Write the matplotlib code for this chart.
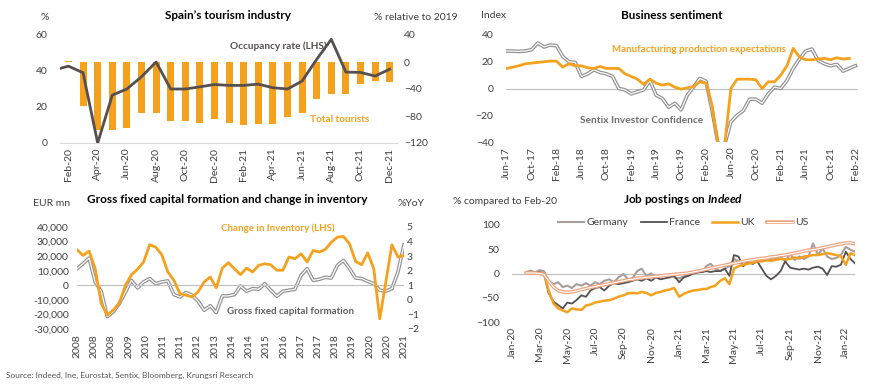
import numpy as np
import pandas as pd
import matplotlib
matplotlib.use("Agg")
import matplotlib.pyplot as plt
import matplotlib.patheffects as pe

plt.rcParams['font.family'] = ['Lato', 'DejaVu Sans']
plt.rcParams['font.size'] = 7.5
plt.rcParams['text.color'] = '#404040'
plt.rcParams['xtick.color'] = '#404040'
plt.rcParams['ytick.color'] = '#404040'
plt.rcParams['mathtext.fontset'] = 'custom'
plt.rcParams['mathtext.it'] = 'Lato:italic:bold'

ORANGE = '#F4A21E'
DARK = '#574f4f'
ZERO = '#bfbfbf'

# ---- data: Spain tourism (Jan-20 point only feeds the clipped line start)
tour_months = ['Jan-20', 'Feb-20', 'Mar-20', 'Apr-20', 'May-20', 'Jun-20', 'Jul-20', 'Aug-20',
               'Sep-20', 'Oct-20', 'Nov-20', 'Dec-20', 'Jan-21', 'Feb-21', 'Mar-21', 'Apr-21',
               'May-21', 'Jun-21', 'Jul-21', 'Aug-21', 'Sep-21', 'Oct-21', 'Nov-21', 'Dec-21']
total_tourists = [2, 1, -65, -100, -100, -98, -75, -76, -87, -87, -90, -84, -90, -94, -92, -92,
                  -82, -75, -55, -48, -47, -32, -28, -30]
occupancy = [40.5, 42.7, 39, 0, 26.6, 30, 36.8, 45, 30, 30, 31.2, 32.5, 32, 32, 32.7, 30.7,
             30, 34.4, 46.5, 57.6, 39.4, 39.2, 37.2, 41]

# ---- data: business sentiment, Jun-17 .. Feb-22
sent_months = pd.date_range('2017-06-01', '2022-02-01', freq='MS').strftime('%b-%y').tolist()
sentix = [28, 28, 27.7, 28, 29, 34, 31,
          32.5, 32, 24, 20, 19.5, 9, 11, 14, 12, 11, 9, 0,
          -1, -4, -2.5, -1, 6, -5, -7.5, -14, -11, -16, -5, 1,
          7.5, 5.5, -17, -43, -42, -25, -20, -16.5, -8, -8, -11, -4,
          1, 0, 6, 15, 22, 28, 29.5, 21, 18.5, 17, 18, 13,
          15, 17]
manuf = [15, 16, 17, 18.5, 19, 19.5, 20,
         20.5, 20.5, 16, 18.5, 17, 17, 15.5, 15, 16.5, 15, 15, 15,
         11, 9, 7, 3, 7, 4, 2.5, 3.5, 1, -0.5, 0.5, 1.5,
         5, 4, -13, -45, -42, 0, 7, 7, 7, 6.5, 0, 5,
         5, 10, 17, 30, 23.5, 21.5, 21.5, 22, 22.5, 21.5, 23, 22,
         22.5]

# ---- data: GFCF and inventory, quarterly 2008..2021
gfcf_labels = ['2008', '2008', '2008', '2009', '2010', '2011', '2011', '2012', '2013', '2014',
               '2014', '2015', '2016', '2017', '2017', '2018', '2019', '2020', '2020', '2021']
inventory = [24400, 20500, 23500, 11400, -12500, -20500, -17000, -12000, 0, 7300, 11000, 16000,
             27800, 26200, 21000, 9100, 3400, -5700, -6800, -8000, -4500, 2300, 5700, -1800,
             11800, 15500, 11400, 7300, 11800, 9100, 13700, 14800, 14100, 10300, 10300, 19400,
             18200, 21600, 16000, 23900, 22800, 24600, 29600, 33000, 33500, 28500, 16400, 14100,
             22300, 11400, -23000, 2300, 27800, 19400, 20500]
gfcf = [2.14, 2.48, 2.87, 1.23, 0.59, -1.16, -0.82, -0.25, 0.54, 1.34, 0.82, 1.23, 1.46, 1.11,
        1.23, 1.30, 0.36, 0.20, 0.50, 0.32, -0.09, -0.71, -0.41, -0.87, 0.27, 0.27, 0.36, 0.95,
        0.59, 0.77, 0.73, 1.11, 0.66, 0.25, 0.59, 0.66, 0.73, 1.68, 2.14, 1.34, 1.41, 1.55,
        1.50, 2.37, 2.71, 2.14, 1.50, 1.46, 1.27, 1.11, 0.66, 0.59, 0.77, 1.91, 3.78]

# ---- data: Indeed job postings, sampled on the 1st, 11th and 21st
job_dates = pd.to_datetime([f'{y}-{m:02d}-{d:02d}'
                            for y, m in [(2020, mm) for mm in range(2, 13)] + [(2021, mm) for mm in range(1, 13)] + [(2022, 1)]
                            for d in (1, 11, 21)])
germany = [3, 6, 2, 7, 5, -15, -22, -18, -28, -25, -30, -22, -25, -20, -25, -18, -22, -15,
           -12, -18, -8, -1, -12, -10, 5, 10, -5, 0, -8, -3, -5, -2, -8,
           -10, -6, -3, 0, 5, 3, 15, 20, 10, 5, 10, 15, 30, 25, 15, 25, 20, 28,
           25, 28, 30, 30, 35, 25, 40, 28, 35, 30, 35, 62, 38, 52, 35, 30, 32, 38,
           55, 49, 45]
france = [1, 0, 2, 3, 0, -40, -58, -65, -72, -60, -62, -55, -45, -48, -35, -30, -28, -35,
          -25, -20, -22, -20, -18, -15, -12, -15, -10, -15, -8, -12, -10, -8, -5,
          -18, -8, -5, 0, 2, 3, 5, 3, 5, 5, 10, -5, 38, 35, 15, 25, 20, 25,
          10, -5, -12, -5, 5, 25, 12, 10, 8, 10, 8, 12, 14, 10, -3, 15, 14, 18,
          45, 30, 21]
uk = [0, 1, 0, 1, 0, -35, -62, -72, -76, -80, -72, -74, -75, -66, -64, -60, -58, -56,
      -55, -52, -48, -45, -41, -40, -41, -38, -40, -45, -40, -38, -35, -33, -30,
      -48, -42, -38, -35, -34, -32, -32, -28, -25, -15, -10, -22, 10, 15, 18, 20, 22, 25,
      25, 27, 26, 28, 30, 29, 30, 33, 31, 35, 36, 38, 38, 40, 42, 40, 38, 36,
      18, 42, 38]
us = [1, 1, 1, 0, -2, -15, -28, -35, -38, -39, -38, -36, -33, -31, -29, -27, -25, -23,
      -21, -19, -17, -15, -13, -12, -10, -9, -8, -7, -6, -5, -4, -3, -2,
      -1, 0, 1, 3, 5, 7, 9, 11, 13, 15, 17, 19, 21, 23, 25, 27, 28, 30,
      31, 32, 34, 35, 37, 38, 40, 42, 44, 46, 48, 49, 51, 53, 55, 57, 59, 61,
      63, 63, 61]

W, H = 870, 385
fig = plt.figure(figsize=(W / 100, H / 100), dpi=100)


def box(x0, y0, x1, y1):
    # pixel box (top-left origin) -> figure fraction
    return [x0 / W, 1 - y1 / H, (x1 - x0) / W, (y1 - y0) / H]


def clean(ax):
    for s in ax.spines.values():
        s.set_visible(False)
    ax.tick_params(length=0)


def double(color):
    return [pe.Stroke(linewidth=2.6, foreground=color), pe.Normal()]


# ================= Spain's tourism industry =================
ax1 = fig.add_axes(box(60, 35, 397, 143))
ax1r = ax1.twinx()
x1 = np.arange(len(tour_months))
ax1r.bar(x1, total_tourists, width=0.47, color=ORANGE, zorder=1)
ax1r.set_ylim(-120, 40)
ax1r.set_yticks([-120, -80, -40, 0, 40])
ax1.set_zorder(ax1r.get_zorder() + 1)
ax1.patch.set_visible(False)
ax1.plot(x1, occupancy, color=DARK, lw=2, zorder=3)
ax1.set_ylim(0, 60)
ax1.set_yticks([0, 20, 40, 60])
ax1.set_xlim(0.42, 23.5)
ax1.set_xticks(x1[1::2])
ax1.set_xticklabels(tour_months[1::2], rotation=90)
clean(ax1)
clean(ax1r)
ax1.spines['bottom'].set_visible(True)
ax1.spines['bottom'].set_color('#d9d9d9')
ax1.tick_params(axis='y', pad=9)
ax1r.tick_params(axis='y', pad=5)
ax1.text(0.5, 1.18, 'Spain’s tourism industry', transform=ax1.transAxes, ha='center',
         va='center', fontsize=8.5, fontweight='bold', color='black')
fig.text(45 / W, 1 - 17 / H, '%', ha='center', va='center', fontsize=7.5)
fig.text(374 / W, 1 - 17 / H, '% relative to 2019', ha='left', va='center', fontsize=7.5)
ax1.text(0.647, 0.9, 'Occupancy rate (LHS)', transform=ax1.transAxes, ha='center',
         va='center', fontsize=7.2, fontweight='bold', color=DARK)
ax1.text(0.83, 0.22, 'Total tourists', transform=ax1.transAxes, ha='center',
         va='center', fontsize=7.2, fontweight='bold', color=ORANGE)

# ================= Business sentiment =================
ax2 = fig.add_axes(box(506, 35, 858, 142))
x2 = np.arange(len(sent_months))
ax2.axhline(0, color=ZERO, lw=0.8, zorder=1)
ax2.plot(x2, sentix, color='white', lw=0.9, path_effects=double('#8f8f8f'), zorder=2)
ax2.plot(x2[:len(manuf)], manuf, color=ORANGE, lw=2, zorder=3)
ax2.set_ylim(-40, 40)
ax2.set_yticks([-40, -20, 0, 20, 40])
ax2.set_xlim(-0.1, len(sent_months) - 0.6)
ax2.set_xticks(x2[::4])
ax2.set_xticklabels(sent_months[::4], rotation=90)
clean(ax2)
ax2.tick_params(axis='y', pad=9)
ax2.text(0.47, 1.18, 'Business sentiment', transform=ax2.transAxes, ha='center',
         va='center', fontsize=8.5, fontweight='bold', color='black')
fig.text(494 / W, 1 - 15 / H, 'Index', ha='center', va='center', fontsize=7.5)
ax2.text(0.3, 0.86, 'Manufacturing production expectations', transform=ax2.transAxes,
         ha='left', va='center', fontsize=7.0, fontweight='bold', color=ORANGE)
ax2.text(0.21, 0.2, 'Sentix Investor Confidence', transform=ax2.transAxes,
         ha='left', va='center', fontsize=7.3, fontweight='bold', color='#6e6e6e')

# ================= GFCF and inventory =================
ax3 = fig.add_axes(box(77, 227, 404, 329))
ax3r = ax3.twinx()
x3 = np.arange(len(inventory))
ax3.axhline(0, color=ZERO, lw=0.8, zorder=1)
ax3r.plot(x3, gfcf, color='white', lw=0.9, path_effects=double('#8f8f8f'), zorder=2)
ax3r.set_ylim(-2, 5)
ax3r.set_yticks(range(-2, 6))
ax3.set_zorder(ax3r.get_zorder() + 1)
ax3.patch.set_visible(False)
ax3.plot(x3, inventory, color=ORANGE, lw=2, zorder=3)
ax3.set_ylim(-30000, 40000)
ax3.set_yticks(range(-30000, 40001, 10000))
ax3.set_yticklabels([f'{v:,}' for v in range(-30000, 40001, 10000)])
ax3.set_xlim(0, len(inventory) - 1)
ax3.set_xticks(np.linspace(0, len(inventory) - 1, len(gfcf_labels)))
ax3.set_xticklabels(gfcf_labels, rotation=90)
clean(ax3)
clean(ax3r)
ax3.tick_params(axis='y', pad=6)
ax3r.tick_params(axis='y', pad=2)
ax3.text(0.46, 1.27, 'Gross fixed capital formation and change in inventory',
         transform=ax3.transAxes, ha='center', va='center', fontsize=8.5,
         fontweight='bold', color='black')
fig.text(52 / W, 1 - 204 / H, 'EUR mn', ha='center', va='center', fontsize=7.5)
fig.text(411 / W, 1 - 204 / H, '%YoY', ha='center', va='center', fontsize=7.5)
ax3.text(0.44, 0.99, 'Change in Inventory (LHS)', transform=ax3.transAxes,
         ha='left', va='center', fontsize=7.0, fontweight='bold', color=ORANGE)
ax3.text(0.46, 0.17, 'Gross fixed capital formation', transform=ax3.transAxes,
         ha='left', va='center', fontsize=7.0, fontweight='bold', color='#5e5e5e')
fig.text(6 / W, 1 - 375 / H, 'Source: Indeed, Ine, Eurostat, Sentix, Bloomberg, Krungsri Research',
         ha='left', va='center', fontsize=6, color='#555555')

# ================= Job postings on Indeed =================
ax4 = fig.add_axes(box(512, 225, 855, 322))
ax4.axhline(0, color=ZERO, lw=0.8, zorder=1)
ax4.plot(job_dates, germany, color='#a99d9a', lw=1.5, label='Germany', zorder=2)
ax4.plot(job_dates, france, color='#555050', lw=1.3, label='France', zorder=3)
ax4.plot(job_dates, uk, color=ORANGE, lw=1.8, label='UK', zorder=4)
ax4.plot(job_dates, us, color='white', lw=0.8, path_effects=double('#eaa482'),
         label='US', zorder=5)
ax4.set_ylim(-100, 100)
ax4.set_yticks([-100, -50, 0, 50, 100])
ax4.set_xlim(pd.Timestamp('2020-01-01'), pd.Timestamp('2022-01-21'))
xt4 = pd.date_range('2020-01-01', '2022-01-01', freq='2MS')
ax4.set_xticks(xt4)
ax4.set_xticklabels(xt4.strftime('%b-%y'), rotation=90)
clean(ax4)
ax4.tick_params(axis='y', pad=9)
ax4.legend(loc='upper center', bbox_to_anchor=(0.5, 1.17), ncol=4, frameon=False,
           fontsize=7.5, handlelength=2.5, handletextpad=0.2, columnspacing=1.2)
ax4.text(0.5, 1.26, 'Job postings on $\\it{Indeed}$', transform=ax4.transAxes, ha='center',
         va='center', fontsize=8.5, fontweight='bold', color='black')
fig.text(505 / W, 1 - 202 / H, '% compared to Feb-20', ha='center', va='center', fontsize=7.5)

fig.savefig('out.png', dpi=100, facecolor='white')
